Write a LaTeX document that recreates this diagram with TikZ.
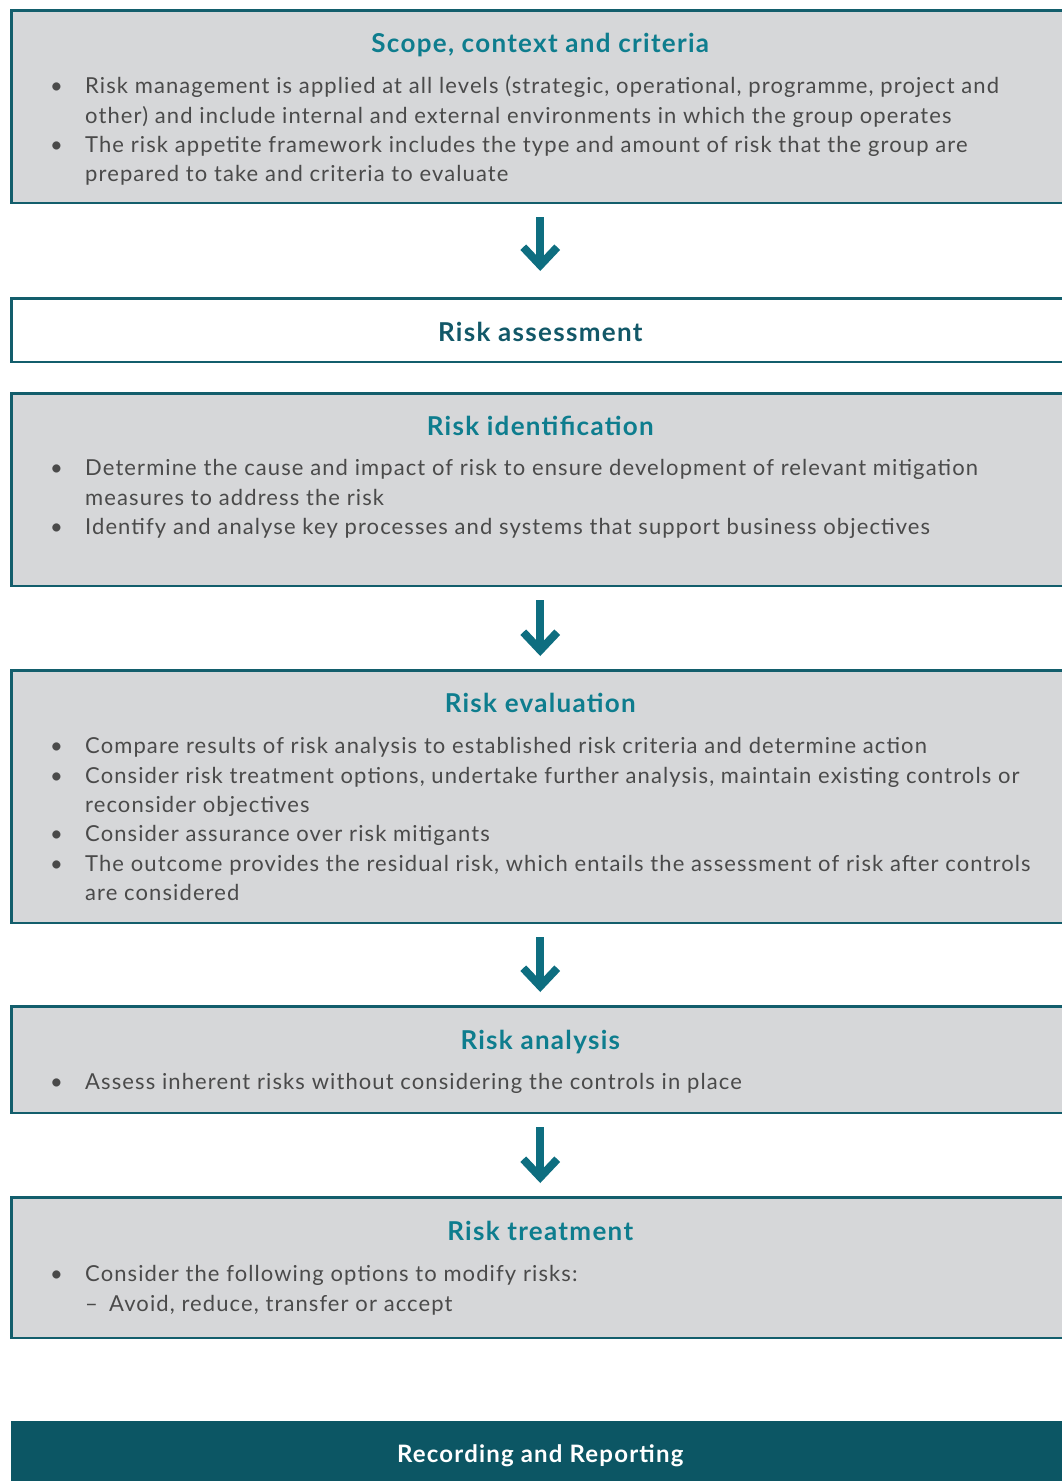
\documentclass[tikz,border=0pt]{standalone}
\usepackage{fontspec}
\setmainfont{Lato}[LetterSpace=5]
\usepackage{xcolor}
\usetikzlibrary{positioning, arrows.meta}

\definecolor{edgeteal}{HTML}{135E6C}
\definecolor{headteal}{HTML}{0E7D8E}
\definecolor{darkteal}{HTML}{125868}
\definecolor{barteal}{HTML}{0C5664}
\definecolor{arrowteal}{HTML}{0E6E80}
\definecolor{panelgray}{HTML}{D6D7D9}
\definecolor{bodygray}{HTML}{4A4A4A}

\newcommand{\itm}{\strut\makebox[35pt][l]{\textbullet}}
\newcommand{\cnt}{\hspace*{35pt}}

\begin{document}
\begin{tikzpicture}[x=1pt, y=1pt, node distance=81pt,
    panel/.style={draw=edgeteal, line width=2.5pt, fill=panelgray, minimum width=1058pt, inner sep=0pt},
    head/.style={font=\fontsize{26}{30}\selectfont\bfseries, text=headteal, anchor=base, inner sep=0pt},
    body/.style={font=\fontsize{22}{29.4}\selectfont, text=bodygray, align=left, anchor=north west, inner sep=0pt},
    flow/.style={draw=arrowteal, line width=8pt, -{Straight Barb[length=18pt, width=34pt]}, shorten <=13pt, shorten >=13pt}]
    \useasboundingbox (0,0) rectangle (1061,-1481);

    % boxes
    \node[panel, minimum height=192.5pt, anchor=north west] (scope) at (10,-9) {};
    \node[panel, fill=white, minimum height=63.5pt, below=93pt of scope] (assess) {};
    \node[panel, minimum height=192.5pt, below=29pt of assess] (ident) {};
    \node[panel, minimum height=252.5pt, below=82pt of ident] (eval) {};
    \node[panel, minimum height=106.5pt, below=81pt of eval] (anal) {};
    \node[panel, minimum height=140.5pt, below=82pt of anal] (treat) {};
    \node[panel, draw=none, fill=barteal, minimum height=80pt, below=81pt of treat] (record) {};

    % headings
    \node[head] (scopeH) at ([yshift=-43pt]scope.north) {Scope, context and criteria};
    \node[head, text=darkteal] (assessH) at ([yshift=-44pt]assess.north) {Risk assessment};
    \node[head] (identH) at ([yshift=-43pt]ident.north) {Risk identification};
    \node[head] (evalH) at ([yshift=-43pt]eval.north) {Risk evaluation};
    \node[head] (analH) at ([yshift=-44pt]anal.north) {Risk analysis};
    \node[head] (treatH) at ([yshift=-44pt]treat.north) {Risk treatment};
    \node[head, text=white, font=\fontsize{24}{28}\selectfont\bfseries] (recordH) at ([yshift=-42pt]record.north) {Recording and Reporting};

    % bullet text
    \node[body] (scopeB) at ([xshift=40pt, yshift=-64pt]scope.north west)
        {\itm Risk management is applied at all levels (strategic, operational, programme, project and\\
         \cnt other) and include internal and external environments in which the group operates\\
         \itm The risk appetite framework includes the type and amount of risk that the group are\\
         \cnt prepared to take and criteria to evaluate};
    \node[body] (identB) at ([xshift=40pt, yshift=-63pt]ident.north west)
        {\itm Determine the cause and impact of risk to ensure development of relevant mitigation\\
         \cnt measures to address the risk\\
         \itm Identify and analyse key processes and systems that support business objectives};
    \node[body] (evalB) at ([xshift=40pt, yshift=-64pt]eval.north west)
        {\itm Compare results of risk analysis to established risk criteria and determine action\\
         \itm Consider risk treatment options, undertake further analysis, maintain existing controls or\\
         \cnt reconsider objectives\\
         \itm Consider assurance over risk mitigants\\
         \itm The outcome provides the residual risk, which entails the assessment of risk after controls\\
         \cnt are considered};
    \node[body] (analB) at ([xshift=40pt, yshift=-64pt]anal.north west)
        {\itm Assess inherent risks without considering the controls in place};
    \node[body] (treatB) at ([xshift=40pt, yshift=-65pt]treat.north west)
        {\itm Consider the following options to modify risks:\\
         \cnt\makebox[24pt][l]{--}Avoid, reduce, transfer or accept};

    % arrows
    \draw[flow, shorten >=26pt] (scope) -- (assess);
    \draw[flow] (ident) -- (eval);
    \draw[flow] (eval) -- (anal);
    \draw[flow] (anal) -- (treat);
\end{tikzpicture}
\end{document}
